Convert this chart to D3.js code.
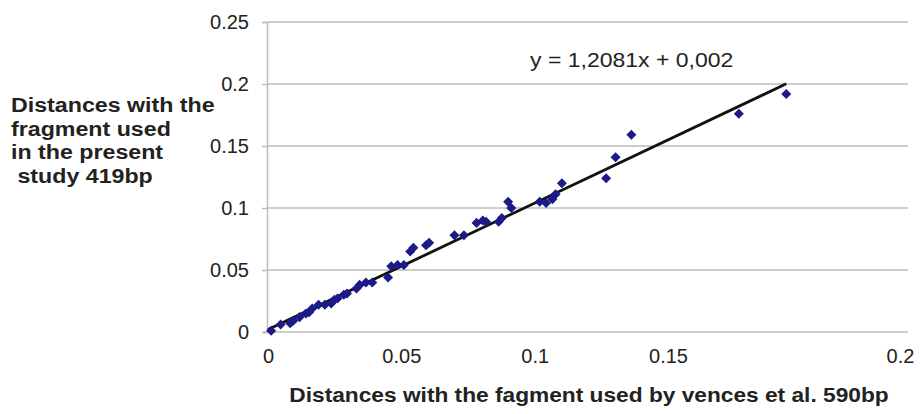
<!DOCTYPE html>
<html>
<head>
<meta charset="utf-8">
<script src="https://cdn.jsdelivr.net/npm/d3@7"></script>
<style>
  body { margin: 0; background: #fff; }
  svg { display: block; font-family: 'Liberation Sans', Arial, sans-serif; }
</style>
</head>
<body>
<svg id="chart" width="920" height="414"></svg>
<script>
// distances 590bp fragment (x) vs 419bp fragment (y)
var xValues = [0.001, 0.004, 0.007, 0.008, 0.010, 0.012, 0.013, 0.014, 0.016, 0.018,
  0.020, 0.021, 0.022, 0.024, 0.025, 0.028, 0.029, 0.031, 0.033, 0.038,
  0.039, 0.041, 0.043, 0.045, 0.046, 0.050, 0.051, 0.059, 0.062, 0.066,
  0.068, 0.069, 0.073, 0.074, 0.076, 0.077, 0.086, 0.088, 0.090, 0.091,
  0.093, 0.107, 0.110, 0.115, 0.149, 0.164]
var yValues = [0.001, 0.006, 0.007, 0.009, 0.012, 0.015, 0.016, 0.019, 0.022, 0.022,
  0.023, 0.026, 0.027, 0.030, 0.031, 0.035, 0.038, 0.040, 0.040, 0.044,
  0.053, 0.054, 0.054, 0.065, 0.068, 0.070, 0.072, 0.078, 0.078, 0.088,
  0.090, 0.089, 0.089, 0.092, 0.105, 0.100, 0.105, 0.104, 0.107, 0.111,
  0.120, 0.124, 0.141, 0.159, 0.176, 0.192]
var xTicks = [0, 0.05, 0.1, 0.15, 0.2]
var yTicks = [0, 0.05, 0.1, 0.15, 0.2, 0.25]
var trend = { slope: 1.2081, intercept: 0.002, xMax: 0.164 }
var equationLabel = 'y = 1,2081x + 0,002'
var yTitleLines = ['Distances with the', 'fragment used', 'in the present', ' study 419bp']
var xTitle = 'Distances with the fagment used by vences et al. 590bp'

var svg = d3.select('#chart'),
  plot = { left: 268, right: 900, gridRight: 908, top: 22, bottom: 332 },
  gridColor = '#bdbdbd',
  markColor = '#1c1a86',
  textColor = '#222'

var x = d3.scaleLinear().domain([0, 0.2]).range([plot.left, plot.right])
var y = d3.scaleLinear().domain([0, 0.25]).range([plot.bottom, plot.top])
// the source figure's x tick labels are not evenly spaced, keep them where they sit
var xLabelScale = d3.scaleLinear().domain([0, 0.15, 0.2]).range([plot.left, 668, plot.right])
var fmt = function(d) { return String(+d.toFixed(2)) }

// the source text is drawn a little wide
function wideText(px, py, size, stretch) {
  return svg.append('g')
    .attr('transform', 'translate(' + px + ',' + py + ') scale(' + stretch + ',1)')
    .append('text')
    .attr('font-size', size)
    .attr('fill', textColor)
}

// horizontal grid
svg.append('g')
  .selectAll('line')
  .data(yTicks.slice(1))
  .enter()
  .append('line')
  .attr('x1', plot.left)
  .attr('x2', plot.gridRight)
  .attr('y1', y)
  .attr('y2', y)
  .attr('stroke', gridColor)
  .attr('stroke-width', 1.5)

// y axis
var yAxis = svg.append('g')
  .attr('transform', 'translate(' + (plot.left - 1) + ',0)')
  .call(d3.axisLeft(y).tickValues(yTicks).tickFormat(fmt).tickSize(5).tickPadding(13))
yAxis.select('.domain').attr('stroke', gridColor).attr('stroke-width', 1.5)
yAxis.selectAll('.tick line').attr('stroke', gridColor).attr('stroke-width', 1.5)
yAxis.selectAll('.tick text')
  .attr('font-size', 20)
  .attr('font-family', 'Liberation Sans, Arial, sans-serif')
  .attr('fill', textColor)

// x axis
svg.append('line')
  .attr('x1', plot.left - 4)
  .attr('x2', plot.gridRight)
  .attr('y1', plot.bottom)
  .attr('y2', plot.bottom)
  .attr('stroke', gridColor)
  .attr('stroke-width', 1.5)
var xAxis = svg.append('g')
  .attr('transform', 'translate(0,' + plot.bottom + ')')
  .call(d3.axisBottom(xLabelScale).tickValues(xTicks).tickFormat(fmt).tickSize(0).tickPadding(17))
xAxis.select('.domain').remove()
xAxis.selectAll('.tick text')
  .attr('font-size', 20)
  .attr('font-family', 'Liberation Sans, Arial, sans-serif')
  .attr('fill', textColor)

// trend line
svg.append('line')
  .attr('x1', x(0))
  .attr('y1', y(trend.intercept))
  .attr('x2', x(trend.xMax))
  .attr('y2', y(trend.slope * trend.xMax + trend.intercept))
  .attr('stroke', '#111')
  .attr('stroke-width', 2.8)

// points
svg.append('g')
  .selectAll('path')
  .data(xValues)
  .enter()
  .append('path')
  .attr('d', d3.symbol().type(d3.symbolDiamond2).size(64))
  .attr('transform', function(d, i) {
    return 'translate(' + x(d) + ',' + y(yValues[i]) + ')'
  })
  .attr('fill', markColor)

// equation
wideText(530, 67, 19.5, 1.18).text(equationLabel)

// axis titles
wideText(11, 112, 19.5, 1.19)
  .attr('font-weight', 'bold')
  .selectAll('tspan')
  .data(yTitleLines)
  .enter()
  .append('tspan')
  .attr('x', 0)
  .attr('y', function(d, i) { return i * 23.7 })
  .style('white-space', 'pre')
  .text(function(d) { return d })

wideText(589, 402, 19.5, 1.165)
  .attr('text-anchor', 'middle')
  .attr('font-weight', 'bold')
  .text(xTitle)
</script>
</body>
</html>
